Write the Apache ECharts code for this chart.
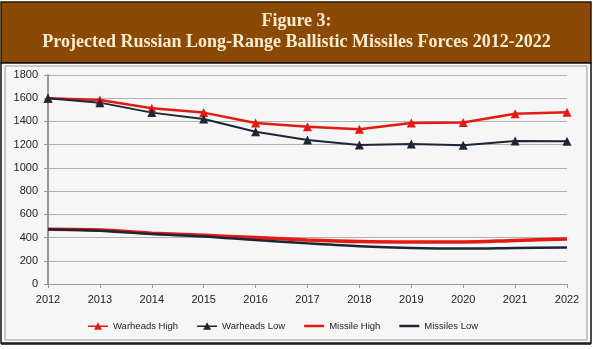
<!DOCTYPE html>
<html><head><meta charset="utf-8">
<script src="https://cdn.jsdelivr.net/npm/echarts@6/dist/echarts.min.js"></script>
<style>html,body{margin:0;padding:0;background:#fff}#c{width:593px;height:349px}</style>
</head><body><div id="c"></div>
<script>
const years = ['2012','2013','2014','2015','2016','2017','2018','2019','2020','2021','2022'];
const warheadsHigh = [1600, 1585, 1513, 1476, 1386, 1355, 1332, 1386, 1390, 1466, 1480];
const warheadsLow  = [1600, 1562, 1476, 1421, 1312, 1240, 1197, 1206, 1194, 1232, 1230];
const missileHigh  = [471, 465, 438, 420, 400, 380, 366, 362, 362, 375, 387];
const missilesLow  = [471, 458, 430, 410, 378, 350, 325, 310, 305, 310, 315];
const yTicks = [0, 200, 400, 600, 800, 1000, 1200, 1400, 1600, 1800];

const chart = echarts.init(document.getElementById('c'), null, {renderer:'canvas'});
const RED = '#e31a12', NAVY = '#1c2637';
const ICON_TRI = 'path://M0,3.2 H20 V4.8 H0 Z M10,0 L14,7.5 H6 Z';
const ICON_LINE = 'path://M0,0 H20 V2.5 H0 Z';
chart.setOption({
  animation:false,
  backgroundColor:'#ffffff',
  graphic:[
    {type:'rect', z:-10, shape:{x:1,y:2,width:590,height:61}, style:{fill:'#8a4a06', stroke:'#2a1600', lineWidth:1.5}},
    {type:'rect', z:-10, shape:{x:1,y:63,width:590,height:280}, style:{fill:'#fbfbfb', stroke:'#111', lineWidth:1.5}},
    {type:'rect', z:-9, shape:{x:5,y:66,width:582,height:274}, style:{fill:'#f6f6f6', stroke:'#9a9a9a', lineWidth:1}},
    {type:'line', z:-9, shape:{x1:1,y1:344,x2:591,y2:344}, style:{stroke:'#111', lineWidth:1.5}}
  ],
  title:{
    text:'Figure 3:\nProjected Russian Long-Range Ballistic Missiles Forces 2012-2022',
    left:'center', top:6,
    textStyle:{fontFamily:'Liberation Serif', fontWeight:'bold', fontSize:18, color:'#fbecd0', lineHeight:21, align:'center'}
  },
  grid:{left:48, right:26, top:75, bottom:65},
  xAxis:{
    type:'category', data:years, boundaryGap:false,
    axisLine:{lineStyle:{color:'#999', width:1}},
    axisTick:{show:true, alignWithLabel:true, length:4, lineStyle:{color:'#999'}},
    axisLabel:{color:'#222', fontFamily:'Liberation Sans', fontSize:11, margin:10}
  },
  yAxis:{
    type:'value', min:0, max:1800, interval:200,
    axisLine:{show:true, lineStyle:{color:'#999', width:2}},
    axisTick:{show:true, length:4, lineStyle:{color:'#999'}},
    splitLine:{lineStyle:{color:'#b0b0b0', width:1}},
    axisLabel:{color:'#222', fontFamily:'Liberation Sans', fontSize:11, margin:10,
      formatter:v=>yTicks.includes(v)?String(v):''}
  },
  legend:{
    top:316, left:83, itemGap:19, itemWidth:20, itemHeight:8,
    textStyle:{fontFamily:'Liberation Sans', fontSize:9.5, color:'#222'},
    data:[
      {name:'Warheads High', icon:ICON_TRI},
      {name:'Warheads Low', icon:ICON_TRI},
      {name:'Missile High', icon:ICON_LINE},
      {name:'Missiles Low', icon:ICON_LINE}
    ]
  },
  series:[
    {name:'Warheads High', type:'line', data:warheadsHigh, color:RED, symbol:'triangle', symbolSize:9,
     lineStyle:{width:2.5, color:RED}, itemStyle:{color:RED}},
    {name:'Warheads Low', type:'line', data:warheadsLow, color:NAVY, symbol:'triangle', symbolSize:9,
     lineStyle:{width:2, color:NAVY}, itemStyle:{color:NAVY}},
    {name:'Missile High', type:'line', data:missileHigh, color:RED, symbol:'none', smooth:0.3,
     lineStyle:{width:3.5, color:RED}, itemStyle:{color:RED}},
    {name:'Missiles Low', type:'line', data:missilesLow, color:NAVY, symbol:'none', smooth:0.3,
     lineStyle:{width:2.5, color:NAVY}, itemStyle:{color:NAVY}}
  ]
});
</script></body></html>
